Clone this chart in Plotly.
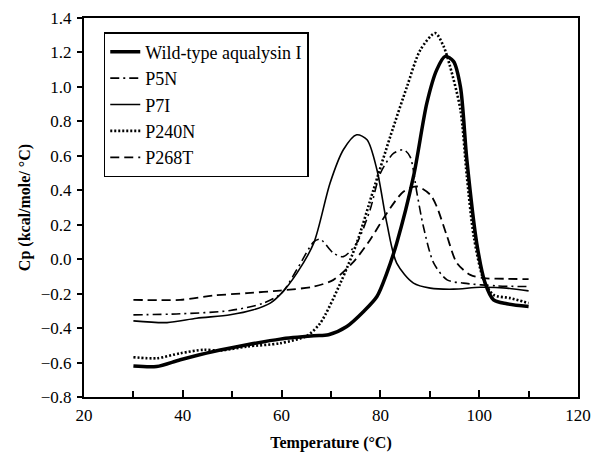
import plotly.graph_objects as go

wt_x = [30, 34.7, 39.5, 46.2, 53.0, 59.7, 66.5, 69.5, 73.2, 76.6, 79.3, 81.3, 83.3, 86.7, 89.4, 91.4, 93.1, 94.8, 96.2, 97.5, 99.5, 101.2, 102.9, 105.6, 110]
wt_y = [-0.62, -0.623, -0.584, -0.536, -0.497, -0.464, -0.445, -0.439, -0.391, -0.304, -0.217, -0.081, 0.093, 0.48, 0.906, 1.099, 1.177, 1.148, 1.0, 0.577, 0.093, -0.139, -0.236, -0.259, -0.275]

p5n_x = [30, 39.5, 49.6, 56.3, 60.0, 63.1, 66.5, 67.8, 70.5, 72.5, 75.2, 77.9, 80.0, 82.7, 84.7, 86.0, 87.4, 88.7, 90.8, 93.5, 96.8, 103.6, 110]
p5n_y = [-0.323, -0.317, -0.298, -0.255, -0.197, -0.06, 0.10, 0.116, 0.035, 0.015, 0.093, 0.286, 0.499, 0.615, 0.635, 0.596, 0.383, 0.19, -0.023, -0.12, -0.139, -0.155, -0.159]

p7i_x = [30, 36.8, 42.8, 49.6, 54.3, 57.7, 60.0, 63.1, 66.5, 69.8, 72.5, 75.2, 77.3, 79.3, 81.3, 83.3, 86.7, 90.1, 94.8, 100.2, 105.6, 110]
p7i_y = [-0.358, -0.368, -0.343, -0.323, -0.294, -0.255, -0.197, -0.081, 0.093, 0.441, 0.635, 0.722, 0.693, 0.519, 0.209, -0.023, -0.139, -0.168, -0.174, -0.163, -0.168, -0.184]

p240n_x = [30, 34.7, 39.5, 44.2, 47.6, 53.0, 59.7, 65.1, 67.8, 71.9, 75.2, 78.6, 82.0, 85.4, 88.1, 91.1, 92.8, 94.1, 96.2, 97.5, 98.9, 100.9, 102.9, 106.3, 110]
p240n_y = [-0.569, -0.575, -0.546, -0.526, -0.53, -0.507, -0.488, -0.445, -0.372, -0.139, 0.093, 0.403, 0.712, 1.003, 1.215, 1.312, 1.235, 1.119, 0.867, 0.48, 0.132, -0.12, -0.207, -0.226, -0.255]

p268t_x = [30, 39.5, 46.2, 53.0, 59.7, 66.5, 70.5, 74.6, 77.9, 81.3, 84.7, 87.4, 90.1, 91.4, 93.5, 95.5, 98.2, 100.9, 105.6, 110]
p268t_y = [-0.236, -0.236, -0.211, -0.197, -0.182, -0.159, -0.12, -0.014, 0.112, 0.267, 0.393, 0.422, 0.374, 0.306, 0.132, -0.023, -0.091, -0.11, -0.114, -0.116]

names = ["Wild-type aqualysin I", "P5N", "P7I", "P240N", "P268T"]
x_tickvals = [20, 40, 60, 80, 100, 120]
y_tickvals = [-0.8, -0.6, -0.4, -0.2, 0.0, 0.2, 0.4, 0.6, 0.8, 1.0, 1.2, 1.4]

series = [
    (wt_x, wt_y, dict(color="black", width=3.5, dash="solid")),
    (p5n_x, p5n_y, dict(color="black", width=1.6, dash="9px,4px,2px,4px")),
    (p7i_x, p7i_y, dict(color="black", width=1.6, dash="solid")),
    (p240n_x, p240n_y, dict(color="black", width=2.6, dash="2px,2px")),
    (p268t_x, p268t_y, dict(color="black", width=1.8, dash="9px,5px")),
]

fig = go.Figure()
for (xs, ys, ln), nm in zip(series, names):
    fig.add_trace(go.Scatter(x=xs, y=ys, mode="lines", name=nm,
                             line=dict(shape="spline", smoothing=0.8, **ln)))

font_family = "Liberation Serif"
fig.update_layout(
    width=591, height=454,
    margin=dict(l=84, r=13, t=18, b=57),
    paper_bgcolor="white", plot_bgcolor="white",
    font=dict(family=font_family, size=17, color="black"),
    showlegend=True,
    legend=dict(x=0.04, y=0.963, xanchor="left", yanchor="top",
                bgcolor="white", bordercolor="black", borderwidth=1.5,
                font=dict(family=font_family, size=18, color="black"),
                tracegroupgap=0, itemwidth=30),
)
fig.update_xaxes(
    range=[20, 120], tickvals=x_tickvals, ticktext=[str(v) for v in x_tickvals],
    ticks="inside", ticklen=7, tickwidth=1.5, tickcolor="black",
    minor=dict(dtick=10, tick0=0, ticks="inside", ticklen=6, tickwidth=1.5, tickcolor="black"),
    showline=True, linecolor="black", linewidth=2, mirror=True,
    showgrid=False, zeroline=False, ticklabelstandoff=2, automargin=False,
    tickfont=dict(family=font_family, size=17),
    title=dict(text="<b>Temperature (°C)</b>", font=dict(family=font_family, size=16), standoff=12),
)
fig.update_yaxes(
    range=[-0.8, 1.4], tickvals=y_tickvals, tickformat=".1f",
    ticks="outside", ticklen=5, tickwidth=1.5, tickcolor="black",
    showline=True, linecolor="black", linewidth=2, mirror=True,
    showgrid=False, zeroline=False, ticklabelstandoff=2, automargin=False,
    tickfont=dict(family=font_family, size=17),
    title=dict(text="<b>Cp (kcal/mole/ °C)</b>", font=dict(family=font_family, size=16), standoff=6),
)

fig.write_html("out.html")
